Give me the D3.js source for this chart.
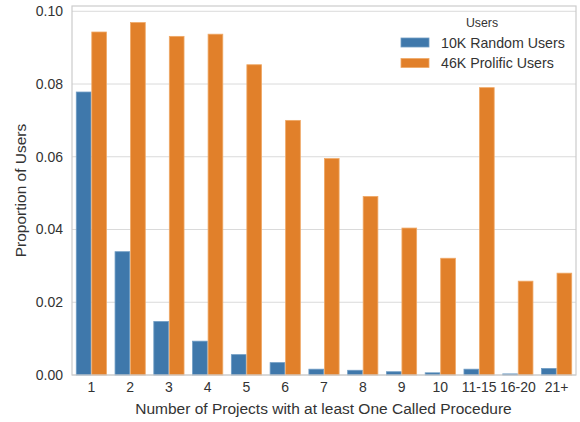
<!DOCTYPE html>
<html>
<head>
<meta charset="utf-8">
<script src="https://cdn.jsdelivr.net/npm/d3@7"></script>
<style>
  html, body { margin: 0; padding: 0; background: #fff; }
  svg { display: block; font-family: "Liberation Sans", Arial, sans-serif; }
</style>
</head>
<body>
<svg id="chart" width="580" height="422"></svg>
<script>
// Number of projects with at least one called procedure, grouped
const categories = ["1", "2", "3", "4", "5", "6", "7", "8", "9", "10", "11-15", "16-20", "21+"];
const seriesNames = ["10K Random Users", "46K Prolific Users"];
const randomUsers = [0.0778, 0.0339, 0.0147, 0.0093, 0.0056, 0.0034, 0.0016, 0.0013, 0.0009, 0.0006, 0.0016, 0.0003, 0.0018];
const prolificUsers = [0.0943, 0.0969, 0.0931, 0.0937, 0.0853, 0.0700, 0.0595, 0.0491, 0.0404, 0.0321, 0.0790, 0.0258, 0.0280];
const yTicks = [0.00, 0.02, 0.04, 0.06, 0.08, 0.10];
const seriesColors = ["#3f78ab", "#e1802a"];
const seriesEdges = ["#6f9cc4", "#efa866"];

const svg = d3.select("#chart");
const margin = { left: 72, top: 6, right: 4, bottom: 47 };
const W = 580, H = 422;
const innerW = W - margin.left - margin.right;
const innerH = H - margin.top - margin.bottom;
const textColor = "#333";

const g = svg.append("g").attr("transform", `translate(${margin.left},${margin.top})`);

const x0 = d3.scaleBand().domain(categories).range([0, innerW]).paddingInner(0.2).paddingOuter(0.1);
const x1 = d3.scaleBand().domain(seriesNames).range([0, x0.bandwidth()]);
const y = d3.scaleLinear().domain([0, 0.10145]).range([innerH, 0]);

// horizontal gridlines
g.append("g").selectAll("line").data(yTicks).join("line")
  .attr("x1", 0).attr("x2", innerW)
  .attr("y1", d => y(d)).attr("y2", d => y(d))
  .attr("stroke", "#dadada").attr("stroke-width", 1);

// bars
const rows = categories.map((c, i) => ({ cat: c, vals: [randomUsers[i], prolificUsers[i]] }));
const groups = g.append("g").selectAll("g").data(rows).join("g")
  .attr("transform", d => `translate(${x0(d.cat)},0)`);
groups.selectAll("rect")
  .data(d => d.vals.map((v, k) => ({ v, k })))
  .join("rect")
  .attr("x", d => x1(seriesNames[d.k]) + 0.4)
  .attr("width", x1.bandwidth() - 0.8)
  .attr("y", d => y(d.v))
  .attr("height", d => innerH - y(d.v))
  .attr("fill", d => seriesColors[d.k])
  .attr("stroke", d => seriesEdges[d.k])
  .attr("stroke-width", 0.8);

// frame
g.append("rect").attr("x", 0).attr("y", 0).attr("width", innerW).attr("height", innerH)
  .attr("fill", "none").attr("stroke", "#cccccc").attr("stroke-width", 1.2);

// y axis
const yAxis = g.append("g").call(d3.axisLeft(y).tickValues(yTicks).tickFormat(d3.format(".2f")).tickSize(0).tickPadding(9));
yAxis.select(".domain").remove();
yAxis.selectAll("text").attr("font-size", 14).attr("fill", textColor).attr("font-family", "Liberation Sans, Arial, sans-serif");

// x axis
const xAxis = g.append("g").attr("transform", `translate(0,${innerH})`)
  .call(d3.axisBottom(x0).tickSize(0).tickPadding(7));
xAxis.select(".domain").remove();
xAxis.selectAll("text").attr("font-size", 14).attr("fill", textColor).attr("font-family", "Liberation Sans, Arial, sans-serif");

// axis titles
svg.append("text").attr("x", 323.5).attr("y", 414)
  .attr("text-anchor", "middle").attr("font-size", 15.5).attr("fill", textColor)
  .text("Number of Projects with at least One Called Procedure");
svg.append("text").attr("transform", `translate(25.5,${margin.top + innerH / 2}) rotate(-90)`)
  .attr("text-anchor", "middle").attr("font-size", 15.5).attr("fill", textColor)
  .text("Proportion of Users");

// legend
const legend = svg.append("g").attr("transform", "translate(400,14)");
legend.append("text").attr("x", 82).attr("y", 12.5).attr("text-anchor", "middle")
  .attr("font-size", 12.3).attr("fill", textColor).text("Users");
seriesNames.forEach((name, k) => {
  const row = legend.append("g").attr("transform", `translate(0,${24 + k * 20.5})`);
  row.append("rect").attr("x", 1).attr("y", 0).attr("width", 28).attr("height", 9)
    .attr("fill", seriesColors[k]).attr("stroke", seriesEdges[k]).attr("stroke-width", 0.8);
  row.append("text").attr("x", 41).attr("y", 9.5).attr("font-size", 14.2).attr("fill", textColor).text(name);
});
</script>
</body>
</html>
